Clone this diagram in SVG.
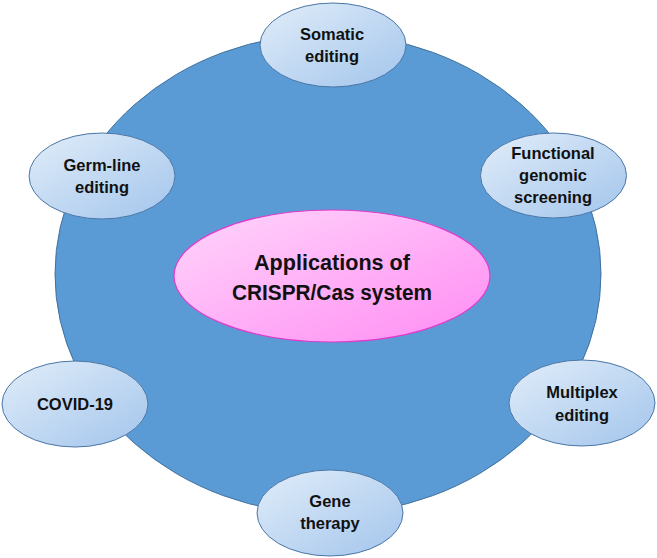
<svg xmlns="http://www.w3.org/2000/svg" width="657" height="558" viewBox="0 0 657 558">
  <defs>
    <linearGradient id="gNode" x1="0" y1="0" x2="1" y2="1">
      <stop offset="0" stop-color="#E1EDF9"/>
      <stop offset="1" stop-color="#A3C5EC"/>
    </linearGradient>
    <linearGradient id="gPink" x1="0" y1="0" x2="1" y2="1">
      <stop offset="0" stop-color="#FFD6FB"/>
      <stop offset="1" stop-color="#FF8CF3"/>
    </linearGradient>
    <style>
      .bg { fill: #5B9BD5; stroke: #41719C; stroke-width: 1; }
      .node { fill: url(#gNode); stroke: #4A76A6; stroke-width: 1; }
      .center { fill: url(#gPink); stroke: #E03CCB; stroke-width: 1.2; }
      .lbl { font-family: "Liberation Sans", Arial, sans-serif; font-weight: bold; font-size: 16.5px; fill: #111; text-anchor: middle; }
      .big { font-family: "Liberation Sans", Arial, sans-serif; font-weight: bold; font-size: 22px; fill: #111; text-anchor: middle; }
    </style>
  </defs>

  <g id="background">
    <ellipse class="bg" cx="328" cy="274" rx="273" ry="240"/>
  </g>

  <g id="center">
    <ellipse class="center" cx="332" cy="276" rx="158" ry="66"/>
    <text class="big" x="332" y="270" textLength="156" lengthAdjust="spacingAndGlyphs">Applications of</text>
    <text class="big" x="332" y="300" textLength="200" lengthAdjust="spacingAndGlyphs">CRISPR/Cas system</text>
  </g>

  <g id="somatic">
    <ellipse class="node" cx="333" cy="45" rx="73" ry="42"/>
    <text class="lbl" x="332" y="40">Somatic</text>
    <text class="lbl" x="332" y="62">editing</text>
  </g>

  <g id="germline">
    <ellipse class="node" cx="102" cy="176" rx="73" ry="43"/>
    <text class="lbl" x="102" y="171">Germ-line</text>
    <text class="lbl" x="102" y="193">editing</text>
  </g>

  <g id="functional">
    <ellipse class="node" cx="553.5" cy="175.5" rx="73" ry="42.5"/>
    <text class="lbl" x="553" y="159">Functional</text>
    <text class="lbl" x="553" y="181">genomic</text>
    <text class="lbl" x="553" y="203">screening</text>
  </g>

  <g id="covid">
    <ellipse class="node" cx="75" cy="404" rx="73" ry="43"/>
    <text class="lbl" x="75" y="410">COVID-19</text>
  </g>

  <g id="multiplex">
    <ellipse class="node" cx="582" cy="403" rx="73" ry="43"/>
    <text class="lbl" x="582" y="398">Multiplex</text>
    <text class="lbl" x="582" y="421">editing</text>
  </g>

  <g id="gene-therapy">
    <ellipse class="node" cx="330" cy="513" rx="73" ry="43"/>
    <text class="lbl" x="330" y="507">Gene</text>
    <text class="lbl" x="330" y="529">therapy</text>
  </g>
</svg>
